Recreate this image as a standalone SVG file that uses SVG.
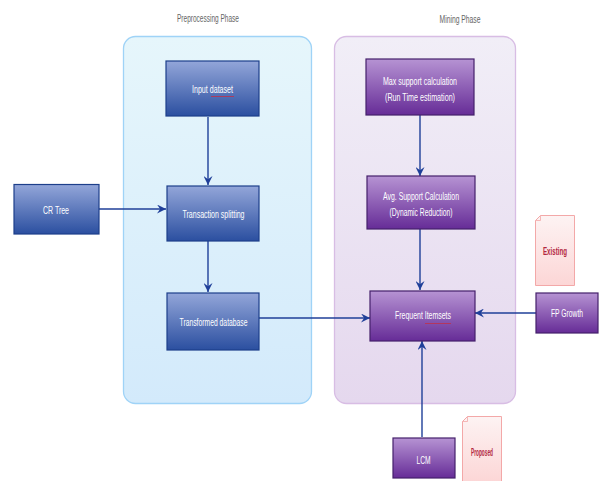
<svg xmlns="http://www.w3.org/2000/svg" width="600" height="481" viewBox="0 0 600 481">
<defs>
<style>
.lbl{font-family:"Liberation Sans",Arial,sans-serif;font-size:10.5px;fill:#ffffff;text-anchor:middle;dominant-baseline:central}
.ttl{font-family:"Liberation Sans",Arial,sans-serif;font-size:10.5px;fill:#666666;text-anchor:middle;dominant-baseline:central}
.note{font-family:"Liberation Sans",Arial,sans-serif;font-size:10.5px;font-weight:bold;fill:#b3283f;text-anchor:middle;dominant-baseline:central}
.blue{fill:url(#gBlue);stroke:#1d3f8a;stroke-width:1.2}
.purple{fill:url(#gPurple);stroke:#45206b;stroke-width:1.2}
.conn{fill:none;stroke:#1f3f99;stroke-width:1.4}
.squig{fill:none;stroke:#c0304a;stroke-width:0.8}
</style>
<linearGradient id="gBlue" x1="0" y1="0" x2="0" y2="1">
<stop offset="0" stop-color="#93a6d9"/><stop offset="1" stop-color="#2b4fa0"/>
</linearGradient>
<linearGradient id="gPurple" x1="0" y1="0" x2="0" y2="1">
<stop offset="0" stop-color="#b693d3"/><stop offset="1" stop-color="#662c97"/>
</linearGradient>
<linearGradient id="gPre" x1="0" y1="0" x2="0" y2="1">
<stop offset="0" stop-color="#e6f6fb"/><stop offset="1" stop-color="#d3eafb"/>
</linearGradient>
<linearGradient id="gMine" x1="0" y1="0" x2="0" y2="1">
<stop offset="0" stop-color="#f1eef7"/><stop offset="1" stop-color="#e5d8ee"/>
</linearGradient>
<linearGradient id="gNote" x1="0" y1="0" x2="0" y2="1">
<stop offset="0" stop-color="#fdf3f3"/><stop offset="1" stop-color="#fcd6d6"/>
</linearGradient>
<marker id="arr" viewBox="0 0 10 10" refX="10" refY="5" markerWidth="9" markerHeight="9" markerUnits="userSpaceOnUse" orient="auto">
<path d="M0,0 L10,5 L0,10 L3.5,5 z" fill="#1f3f99"/>
</marker>
</defs>
<rect width="600" height="481" fill="#ffffff"/>

<g id="preprocessing-phase">
<rect x="123.5" y="36.5" width="188" height="367" rx="12" fill="url(#gPre)" stroke="#9fd3f7" stroke-width="1.3"/>
<text class="ttl" x="208" y="18" textLength="62" lengthAdjust="spacingAndGlyphs">Preprocessing Phase</text>
</g>
<g id="mining-phase">
<rect x="334.5" y="36.5" width="181" height="367" rx="12" fill="url(#gMine)" stroke="#d8bde4" stroke-width="1.3"/>
<text class="ttl" x="460" y="19" textLength="41" lengthAdjust="spacingAndGlyphs">Mining Phase</text>
</g>

<g id="connectors">
<path class="conn" d="M208,117 V185" marker-end="url(#arr)"/>
<path class="conn" d="M208,241 V292" marker-end="url(#arr)"/>
<path class="conn" d="M99,209 H166" marker-end="url(#arr)"/>
<path class="conn" d="M259,318 H370" marker-end="url(#arr)"/>
<path class="conn" d="M420,115 V176" marker-end="url(#arr)"/>
<path class="conn" d="M420,229 V290" marker-end="url(#arr)"/>
<path class="conn" d="M536,313 H475" marker-end="url(#arr)"/>
<path class="conn" d="M422,437 V341" marker-end="url(#arr)"/>
</g>

<g id="input-dataset">
<rect class="blue" x="166" y="61" width="93" height="55"/>
<text class="lbl" x="212.5" y="88.5" textLength="41" lengthAdjust="spacingAndGlyphs">Input dataset</text>
<path class="squig" d="M211,96.5 H234"/>
</g>
<g id="transaction-splitting">
<rect class="blue" x="167" y="186" width="92" height="55"/>
<text class="lbl" x="213.5" y="214" textLength="62" lengthAdjust="spacingAndGlyphs">Transaction splitting</text>
</g>
<g id="cr-tree">
<rect class="blue" x="14" y="184.5" width="85" height="49.5"/>
<text class="lbl" x="56" y="209.5" textLength="26" lengthAdjust="spacingAndGlyphs">CR Tree</text>
</g>
<g id="transformed-database">
<rect class="blue" x="167" y="293" width="92" height="57"/>
<text class="lbl" x="213.5" y="322" textLength="68" lengthAdjust="spacingAndGlyphs">Transformed database</text>
</g>

<g id="max-support">
<rect class="purple" x="366" y="59" width="108" height="56"/>
<text class="lbl" x="420" y="80.5" textLength="74" lengthAdjust="spacingAndGlyphs">Max support calculation</text>
<text class="lbl" x="420" y="96.5" textLength="70" lengthAdjust="spacingAndGlyphs">(Run Time estimation)</text>
</g>
<g id="avg-support">
<rect class="purple" x="367" y="176" width="108" height="53"/>
<text class="lbl" x="421" y="195.5" textLength="76" lengthAdjust="spacingAndGlyphs">Avg. Support Calculation</text>
<text class="lbl" x="421" y="211.5" textLength="63" lengthAdjust="spacingAndGlyphs">(Dynamic Reduction)</text>
</g>
<g id="frequent-itemsets">
<rect class="purple" x="370" y="291" width="105" height="50"/>
<text class="lbl" x="423" y="314.5" textLength="56" lengthAdjust="spacingAndGlyphs">Frequent Itemsets</text>
<path class="squig" d="M425,323.5 H451"/>
</g>
<g id="fp-growth">
<rect class="purple" x="536" y="293" width="62" height="40"/>
<text class="lbl" x="567" y="313" font-size="10" textLength="32" lengthAdjust="spacingAndGlyphs">FP Growth</text>
</g>
<g id="lcm">
<rect class="purple" x="393" y="438" width="62" height="40"/>
<text class="lbl" x="423.5" y="460" textLength="14" lengthAdjust="spacingAndGlyphs">LCM</text>
</g>

<g id="existing-note">
<path d="M540.5,215.5 H574.5 V285.5 H535.5 V220.5 Z" fill="url(#gNote)" stroke="#f3a8a8" stroke-width="1"/>
<path d="M540.5,215.5 L540.5,220.5 L535.5,220.5" fill="none" stroke="#f3a8a8" stroke-width="0.8"/>
<text class="note" x="555" y="251" textLength="24" lengthAdjust="spacingAndGlyphs">Existing</text>
</g>
<g id="proposed-note">
<path d="M467.5,416.5 H501.5 V482 H462.5 V421.5 Z" fill="url(#gNote)" stroke="#f3a8a8" stroke-width="1"/>
<path d="M467.5,416.5 L467.5,421.5 L462.5,421.5" fill="none" stroke="#f3a8a8" stroke-width="0.8"/>
<text class="note" x="482" y="452" textLength="22" lengthAdjust="spacingAndGlyphs">Proposed</text>
</g>
</svg>
